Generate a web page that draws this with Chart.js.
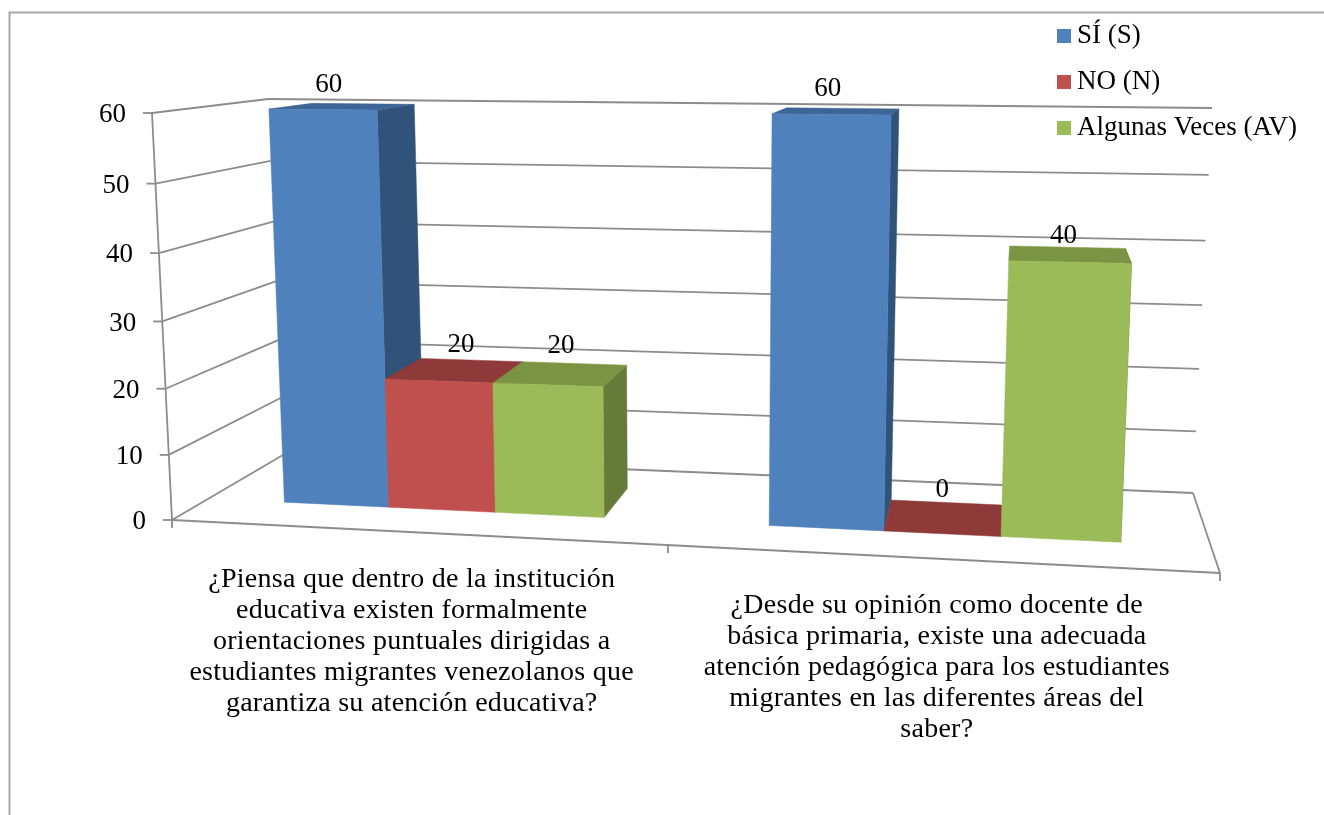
<!DOCTYPE html>
<html>
<head>
<meta charset="utf-8">
<style>html,body{margin:0;padding:0;background:#fff}#w{position:relative;width:1324px;height:815px}canvas{display:block}</style>
<script src="https://cdn.jsdelivr.net/npm/chart.js@4"></script>
</head>
<body>
<div id="w"><canvas id="c" width="1324" height="815"></canvas></div>
<script>
const categories = [
  ["¿Piensa que dentro de la institución","educativa existen formalmente","orientaciones puntuales dirigidas a","estudiantes migrantes venezolanos que","garantiza su atención educativa?"],
  ["¿Desde su opinión como docente de","básica primaria, existe una adecuada","atención pedagógica para los estudiantes","migrantes en las diferentes áreas del","saber?"]
];
const seriesNames = ["SÍ (S)", "NO (N)", "Algunas Veces (AV)"];
const siValues = [60, 60];
const noValues = [20, 0];
const avValues = [20, 40];
const frontColors = ["#4F81BD", "#C0504D", "#9BBB59"];
const sideColors = ["#315279", "#7E3432", "#667A3A"];
const topColors = ["#3D6596", "#8E3A38", "#7A9443"];

/* scene: corners of the 3D box on the page */
const FBL=[172,520],FBR=[1220,573],BBL=[283,455],BBR=[1193,493],FTL=[152,113],FTR=[1240,123],BTL=[268,99],BTR=[1212,108];
const W0=.33,W1=.74,KU=.10,KV=.05;
function lerp(a,b,t){return [a[0]+(b[0]-a[0])*t,a[1]+(b[1]-a[1])*t];}
function P(uL,vL,w){
  const u=uL/(1+KU*(1-uL)), v=vL/(1+KV*(1-vL));
  const fb=lerp(FBL,FBR,u),bb=lerp(BBL,BBR,u),ft=lerp(FTL,FTR,u),bt=lerp(BTL,BTR,u);
  return lerp(lerp(fb,bb,w),lerp(ft,bt,w),v);
}
const LINE="#8C8C8C", SERIF='"Liberation Serif", serif';
const labelNudge=[[[-14,-22],[-9,-22]],[[6,-26],[-2,-28]],[[0,-28],[-5,-19]]];
const catNudge=[-4,-2];

function poly(ctx,pts,color){
  ctx.beginPath();pts.forEach((p,i)=>i?ctx.lineTo(p[0],p[1]):ctx.moveTo(p[0],p[1]));ctx.closePath();
  ctx.fillStyle=color;ctx.fill();ctx.strokeStyle=color;ctx.lineWidth=.5;ctx.stroke();
}
function seg(ctx,a,b){ctx.beginPath();ctx.moveTo(a[0],a[1]);ctx.lineTo(b[0],b[1]);ctx.stroke();}
function ux(c,x){return (x-c.scales.x.left)/(c.scales.x.right-c.scales.x.left);}
function vy(c,y){const s=c.scales.y;return (s.bottom-y)/(s.bottom-s.top);}

const scene3d={
  id:'scene3d',
  beforeDraw(c){
    const ctx=c.ctx;ctx.save();
    ctx.strokeStyle="#A6A6A6";ctx.lineWidth=2;
    ctx.beginPath();ctx.moveTo(9.5,815);ctx.lineTo(9.5,12.5);ctx.lineTo(1324,12.5);ctx.stroke();
    ctx.strokeStyle=LINE;ctx.lineWidth=1.8;
    const ys=c.scales.y;
    seg(ctx,P(0,0,0),P(0,1,0));
    ys.ticks.forEach(t=>{
      const v=vy(c,ys.getPixelForValue(t.value));
      const a=P(0,v,0),b=P(0,v,1),d=P(1,v,1);
      seg(ctx,a,b);seg(ctx,b,d);
      seg(ctx,a,[a[0]-9,a[1]]);
      ctx.fillStyle="#000";ctx.font='27px '+SERIF;ctx.textAlign="right";ctx.textBaseline="middle";
      ctx.fillText(String(t.value),a[0]-26,a[1]+2);
    });
    seg(ctx,P(0,0,0),P(1,0,0));
    seg(ctx,P(1,0,1),P(1,0,0));
    [0,.497,1].forEach(u=>{const p=P(u,0,0);seg(ctx,p,[p[0],p[1]+8]);});
    /* category labels */
    ctx.fillStyle="#000";ctx.font='28px '+SERIF;ctx.letterSpacing='0.27px';ctx.textAlign="center";ctx.textBaseline="middle";
    const xs=c.scales.x;
    categories.forEach((lines,i)=>{
      const p=P(ux(c,xs.getPixelForValue(i)),0,0);
      lines.forEach((l,k)=>ctx.fillText(l,p[0]+catNudge[i],p[1]+47+k*31));
    });
    ctx.letterSpacing='0px';
    /* legend */
    ctx.textAlign="left";ctx.font='27px '+SERIF;
    c.data.datasets.forEach((d,i)=>{
      const y=36+i*46;
      ctx.fillStyle=d.backgroundColor;ctx.fillRect(1057,y-7,14,14);
      ctx.fillStyle="#000";ctx.fillText(d.label,1077,y);
    });
    ctx.restore();
  },
  beforeDatasetDraw(){ return false; },
  afterDatasetsDraw(c){
    const ctx=c.ctx;ctx.save();
    c.data.datasets.forEach((d,i)=>{
      c.getDatasetMeta(i).data.forEach(el=>{
        const l=ux(c,el.x-el.width/2),r=ux(c,el.x+el.width/2),t=vy(c,el.y),b=vy(c,el.base);
        poly(ctx,[P(r,b,W0),P(r,b,W1),P(r,t,W1),P(r,t,W0)],sideColors[i]);
        poly(ctx,[P(l,t,W0),P(l,t,W1),P(r,t,W1),P(r,t,W0)],topColors[i]);
        if(t>b) poly(ctx,[P(l,b,W0),P(r,b,W0),P(r,t,W0),P(l,t,W0)],frontColors[i]);
      });
    });
    ctx.fillStyle="#000";ctx.font='27px '+SERIF;ctx.textAlign="center";ctx.textBaseline="middle";
    c.data.datasets.forEach((d,i)=>{
      c.getDatasetMeta(i).data.forEach((el,j)=>{
        const p=P(ux(c,el.x),vy(c,el.y),(W0+W1)/2),n=labelNudge[i][j];
        ctx.fillText(String(d.data[j]),p[0]+n[0],p[1]+n[1]);
      });
    });
    ctx.restore();
  }
};

new Chart(document.getElementById('c'),{
  type:'bar',
  data:{
    labels:categories,
    datasets:[
      {label:seriesNames[0],data:siValues,backgroundColor:frontColors[0]},
      {label:seriesNames[1],data:noValues,backgroundColor:frontColors[1]},
      {label:seriesNames[2],data:avValues,backgroundColor:frontColors[2]}
    ]
  },
  options:{
    responsive:false,animation:false,
    layout:{padding:{left:170,right:104,top:113,bottom:295}},
    datasets:{bar:{categoryPercentage:.67,barPercentage:1,borderWidth:0}},
    plugins:{legend:{display:false},tooltip:{enabled:false}},
    scales:{
      x:{grid:{display:false},border:{display:false},ticks:{display:false}},
      y:{min:0,max:60,ticks:{display:false,stepSize:10},grid:{display:false},border:{display:false}}
    }
  },
  plugins:[scene3d]
});
</script>
</body>
</html>
